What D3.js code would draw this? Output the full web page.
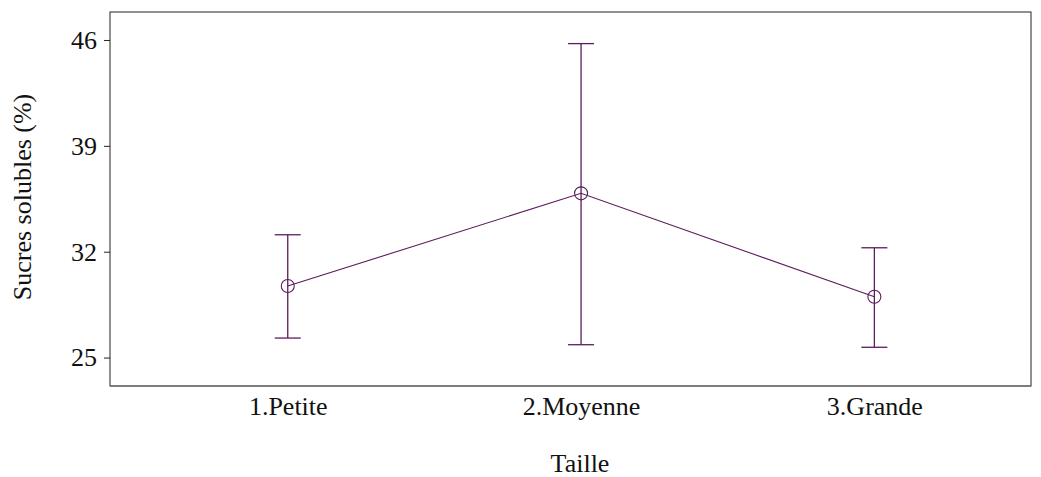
<!DOCTYPE html>
<html>
<head>
<meta charset="utf-8">
<script src="https://cdn.jsdelivr.net/npm/d3@7"></script>
<style>
  body { margin: 0; background: #fff; }
  svg text { font-family: "Liberation Serif", "Times New Roman", serif; }
</style>
</head>
<body>
<svg id="chart" width="1041" height="477"></svg>
<script>
// Mean soluble sugar content with interval bounds per fruit size class
const categories = ["1.Petite", "2.Moyenne", "3.Grande"];
const means = [29.73, 35.86, 29.02];
const upper = [33.12, 45.76, 32.26];
const lower = [26.29, 25.85, 25.68];
const yTicks = [25, 32, 39, 46];

const svg = d3.select("#chart");
const margin = { left: 110, right: 10, top: 12, bottom: 91 };
const W = 1041, H = 477;
const x0 = margin.left, x1 = W - margin.right;
const y0 = H - margin.bottom, y1 = margin.top;
const color = "#5a1d5c";
const serif = '"Liberation Serif", "Times New Roman", serif';
const fs = 26;

const x = d3.scaleLinear().domain([0.394, 3.534]).range([x0, x1]);
const y = d3.scaleLinear().domain([23.12, 47.85]).range([y0, y1]);

const data = categories.map((c, i) => ({ c, i: i + 1, m: means[i], hi: upper[i], lo: lower[i] }));

// Frame
svg.append("rect")
  .attr("x", x0).attr("y", y1)
  .attr("width", x1 - x0).attr("height", y0 - y1)
  .attr("fill", "none").attr("stroke", "#222").attr("stroke-width", 1);
svg.append("line")
  .attr("x1", x0).attr("x2", x1).attr("y1", y0).attr("y2", y0)
  .attr("stroke", "#777").attr("stroke-width", 1.5);

// Y axis
const yAxis = svg.append("g")
  .attr("transform", `translate(${x0},0)`)
  .call(d3.axisLeft(y).tickValues(yTicks).tickSize(6).tickPadding(7).tickFormat(d3.format("d")));
yAxis.select(".domain").remove();
yAxis.selectAll("line").attr("stroke", "#222");
yAxis.selectAll("text").style("font-size", fs + "px").style("font-family", serif).attr("fill", "#111");

// X axis labels (no tick marks)
const xAxis = svg.append("g")
  .attr("transform", `translate(0,${y0})`)
  .call(d3.axisBottom(x).tickValues([1, 2, 3]).tickSize(0).tickPadding(10.5)
    .tickFormat((d) => categories[d - 1]));
xAxis.select(".domain").remove();
xAxis.selectAll("text").style("font-size", fs + "px").style("font-family", serif).attr("fill", "#111");

// Axis titles
svg.append("text")
  .attr("x", 580).attr("y", 471.5)
  .attr("text-anchor", "middle").attr("fill", "#111")
  .style("font-size", fs + "px").style("font-family", serif)
  .text("Taille");
svg.append("text")
  .attr("transform", `translate(31,197) rotate(-90)`)
  .attr("text-anchor", "middle").attr("fill", "#111")
  .style("font-size", fs + "px").style("font-family", serif)
  .text("Sucres solubles (%)");

// Error bars
const capHalf = 13;
const bars = svg.append("g").attr("stroke", color).attr("stroke-width", 1.3);
bars.selectAll(".v").data(data).join("line")
  .attr("x1", (d) => x(d.i)).attr("x2", (d) => x(d.i))
  .attr("y1", (d) => y(d.lo)).attr("y2", (d) => y(d.hi));
bars.selectAll(".cap-hi").data(data).join("line")
  .attr("x1", (d) => x(d.i) - capHalf).attr("x2", (d) => x(d.i) + capHalf)
  .attr("y1", (d) => y(d.hi)).attr("y2", (d) => y(d.hi));
bars.selectAll(".cap-lo").data(data).join("line")
  .attr("x1", (d) => x(d.i) - capHalf).attr("x2", (d) => x(d.i) + capHalf)
  .attr("y1", (d) => y(d.lo)).attr("y2", (d) => y(d.lo));

// Mean line
svg.append("path").datum(data)
  .attr("fill", "none").attr("stroke", color).attr("stroke-width", 1.1)
  .attr("d", d3.line().x((d) => x(d.i)).y((d) => y(d.m)));

// Mean markers
svg.selectAll(".pt").data(data).join("circle")
  .attr("cx", (d) => x(d.i)).attr("cy", (d) => y(d.m)).attr("r", 6.5)
  .attr("fill", "none").attr("stroke", color).attr("stroke-width", 1.1);
</script>
</body>
</html>
